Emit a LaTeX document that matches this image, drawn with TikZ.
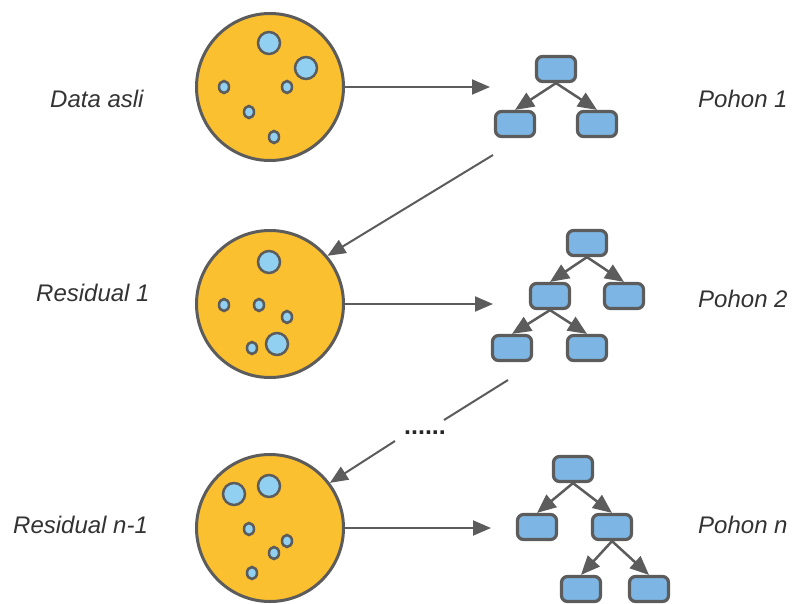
\documentclass[tikz,border=0pt]{standalone}
\usepackage{fontspec}
\setmainfont{Liberation Sans}
\usetikzlibrary{arrows.meta}
\definecolor{edgegray}{RGB}{92,92,92}
\definecolor{dataorange}{RGB}{251,192,48}
\definecolor{bubbleblue}{RGB}{145,208,240}
\definecolor{boxblue}{RGB}{125,182,228}
\definecolor{labelgray}{RGB}{51,51,51}
\tikzset{
  dataset/.style={circle, draw=edgegray, fill=dataorange, line width=3pt, minimum size=147pt, inner sep=0pt},
  bigbubble/.style={circle, draw=edgegray, fill=bubbleblue, line width=2.5pt, minimum size=22pt, inner sep=0pt},
  smallbubble/.style={ellipse, draw=edgegray, fill=bubbleblue, line width=2.5pt, minimum width=10pt, minimum height=12pt, inner sep=0pt},
  treebox/.style={rectangle, rounded corners=6pt, draw=edgegray, fill=boxblue, line width=3.2pt, minimum width=39pt, minimum height=25pt, inner sep=0pt},
  flow/.style={draw=edgegray, line width=2pt, -{Triangle[length=18pt, width=15pt]}},
  plainline/.style={draw=edgegray, line width=2pt},
  branch/.style={draw=edgegray, line width=2.5pt, -{Triangle[length=19pt, width=16pt]}, shorten <=-1pt},
  label/.style={font=\fontsize{24}{28}\selectfont\itshape, text=labelgray, anchor=base west, inner sep=0pt}
}
\usetikzlibrary{shapes.geometric}
\begin{document}
\begin{tikzpicture}[x=1pt, y=-1pt]
\useasboundingbox (0,0) rectangle (792,603);

% ---- data sets ----
\node[dataset] (data) at (270,87) {};
\node[bigbubble] (d1) at (269,43) {};
\node[bigbubble] (d2) at (306,68) {};
\node[smallbubble] (d3) at (224,87) {};
\node[smallbubble] (d4) at (287,87) {};
\node[smallbubble] (d5) at (249,112) {};
\node[smallbubble] (d6) at (274,137) {};

\node[dataset] (res1) at (270,304) {};
\node[bigbubble] (r1) at (269,262) {};
\node[bigbubble] (r2) at (277,344) {};
\node[smallbubble] (r3) at (224,305) {};
\node[smallbubble] (r4) at (259,305) {};
\node[smallbubble] (r5) at (287,317) {};
\node[smallbubble] (r6) at (252,348) {};

\node[dataset] (res2) at (270,528) {};
\node[bigbubble] (s1) at (234,494) {};
\node[bigbubble] (s2) at (269,486) {};
\node[smallbubble] (s3) at (249,529) {};
\node[smallbubble] (s4) at (287,541) {};
\node[smallbubble] (s5) at (274,553) {};
\node[smallbubble] (s6) at (252,573) {};

% ---- labels ----
\node[label] (ldata) at (50,107) {Data asli};
\node[label] (lres1) at (36,301) {Residual 1};
\node[label] (lres2) at (13,533) {Residual n-1};
\node[label] (lt1) at (698,107) {Pohon 1};
\node[label] (lt2) at (698,307) {Pohon 2};
\node[label] (lt3) at (698,533) {Pohon n};

% ---- tree 1 ----
\node[treebox] (a0) at (556,69) {};
\node[treebox] (a1) at (515,124) {};
\node[treebox] (a2) at (597,124) {};
\draw[branch] (a0.south) -- (a1.north);
\draw[branch] (a0.south) -- (a2.north);

% ---- tree 2 ----
\node[treebox] (b0) at (587,243) {};
\node[treebox] (b1) at (550,296) {};
\node[treebox] (b2) at (624,296) {};
\node[treebox] (b3) at (512,348) {};
\node[treebox] (b4) at (587,348) {};
\draw[branch] (b0.south) -- (b1.north);
\draw[branch] (b0.south) -- (b2.north);
\draw[branch] (b1.south) -- (b3.north);
\draw[branch] (b1.south) -- (b4.north);

% ---- tree n ----
\node[treebox] (c0) at (573,469) {};
\node[treebox] (c1) at (537,527) {};
\node[treebox] (c2) at (612,527) {};
\node[treebox] (c3) at (581,589) {};
\node[treebox] (c4) at (649,589) {};
\draw[branch] (c0.south) -- (c1.north);
\draw[branch] (c0.south) -- (c2.north);
\draw[branch] (c2.south) -- (c3.north);
\draw[branch] (c2.south) -- (c4.north);

% ---- flow between data sets and trees ----
\coordinate (fit1) at (490,87);
\coordinate (fit2) at (493,304);
\coordinate (fit3) at (491,528);
\draw[flow] (data.east) -- (fit1);
\draw[flow] (res1.east) -- (fit2);
\draw[flow] (res2.east) -- (fit3);

\coordinate (from1) at (493,155);
\draw[flow] (from1) -- (res1.40);

\coordinate (from2) at (508,380);
\coordinate (gapA) at (444,420);
\coordinate (gapB) at (395,441);
\node[font=\fontsize{25}{28}\selectfont\bfseries, text=black!85, anchor=base, inner sep=0pt] (dots) at (425,434) {......};
\draw[plainline] (from2) -- (gapA);
\draw[flow] (gapB) -- (res2.37);
\end{tikzpicture}
\end{document}
